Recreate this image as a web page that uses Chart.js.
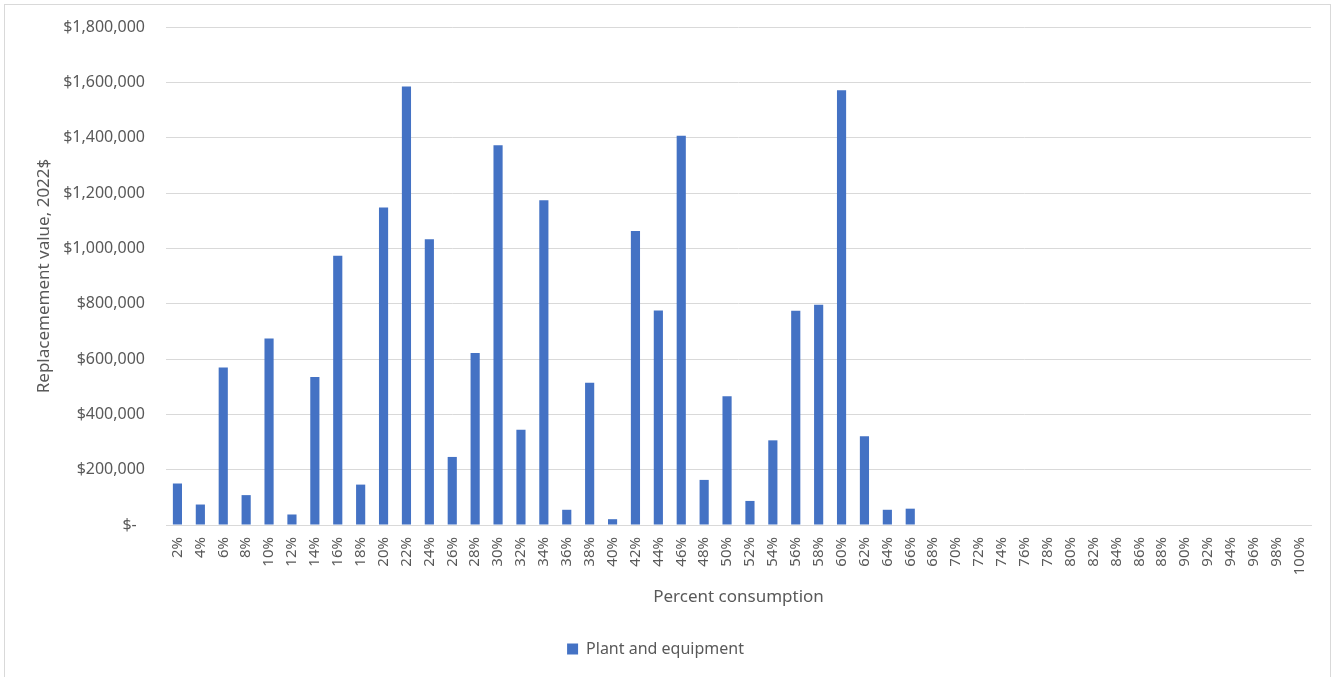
<!DOCTYPE html>
<html>
<head>
<meta charset="utf-8">
<script src="https://cdn.jsdelivr.net/npm/chart.js@4"></script>
<style>
  html, body { margin: 0; padding: 0; background: #fff; }
  #wrap { position: relative; width: 1336px; height: 677px; overflow: hidden; }
  #frame { position: absolute; left: 4px; top: 4px; width: 1327px; height: 700px; border: 1px solid #d9d9d9; box-sizing: border-box; }
  canvas { position: absolute; left: 0; top: 0; }
</style>
</head>
<body>
<div id="wrap">
  <div id="frame"></div>
  <canvas id="myChart" width="1336" height="677"></canvas>
</div>
<script>
// Chart data
const categories = [
  '2%', '4%', '6%', '8%', '10%', '12%', '14%', '16%', '18%', '20%',
  '22%', '24%', '26%', '28%', '30%', '32%', '34%', '36%', '38%', '40%',
  '42%', '44%', '46%', '48%', '50%', '52%', '54%', '56%', '58%', '60%',
  '62%', '64%', '66%', '68%', '70%', '72%', '74%', '76%', '78%', '80%',
  '82%', '84%', '86%', '88%', '90%', '92%', '94%', '96%', '98%', '100%'
];
const plantValues = [
  150000, 74000, 569000, 108000, 674000, 38000, 535000, 973000, 146000, 1148000,
  1585000, 1033000, 246000, 622000, 1373000, 344000, 1174000, 55000, 514000, 21000,
  1063000, 775000, 1407000, 163000, 465000, 87000, 306000, 774000, 796000, 1571000,
  321000, 55000, 59000, 0, 0, 0, 0, 0, 0, 0,
  0, 0, 0, 0, 0, 0, 0, 0, 0, 0
];
const seriesName = 'Plant and equipment';
const yTitle = 'Replacemement value, 2022$';
const xTitle = 'Percent consumption';

const textColor = '#595959';
const gridColor = '#d9d9d9';
const fontFamily = '"Noto Sans", "Open Sans", sans-serif';

const data = {
  labels: categories,
  datasets: [{
    label: seriesName,
    data: plantValues,
    backgroundColor: '#4472C4',
    borderWidth: 0,
    barPercentage: 0.4,
    categoryPercentage: 1.0
  }]
};

const options = {
  responsive: false,
  animation: false,
  layout: { padding: { top: 27, right: 25, bottom: 10, left: 0 } },
  plugins: {
    legend: {
      position: 'bottom',
      labels: {
        color: textColor,
        font: { family: fontFamily, size: 16 },
        boxWidth: 11,
        boxHeight: 11,
        padding: 10
      }
    },
    tooltip: { enabled: false }
  },
  scales: {
    x: {
      grid: { display: false, drawTicks: false },
      border: { display: true, color: gridColor },
      ticks: {
        color: textColor,
        font: { family: fontFamily, size: 15 },
        autoSkip: false,
        minRotation: 90,
        maxRotation: 90,
        padding: 12
      },
      title: {
        display: true,
        text: xTitle,
        color: textColor,
        font: { family: fontFamily, size: 17 },
        padding: { top: 0, bottom: 24 }
      },
      afterFit: (scale) => { scale.height = 106; }
    },
    y: {
      min: 0,
      max: 1800000,
      grid: { color: gridColor, lineWidth: 1, drawTicks: false },
      border: { display: false },
      ticks: {
        stepSize: 200000,
        color: textColor,
        font: { family: fontFamily, size: 16 },
        padding: 21,
        callback: (v) => v === 0 ? '$-  ' : '$' + v.toLocaleString('en-US')
      },
      title: {
        display: true,
        text: yTitle,
        color: textColor,
        font: { family: fontFamily, size: 17 },
        padding: { top: 34, bottom: 0 }
      },
      afterFit: (scale) => {
        scale.width = 166;
        scale.paddingTop = 0;
        scale.paddingBottom = 0;
      }
    }
  }
};

const ctx = document.getElementById('myChart').getContext('2d');
const myChart = new Chart(ctx, {
  type: 'bar',
  data: data,
  options: options
});
</script>
</body>
</html>
